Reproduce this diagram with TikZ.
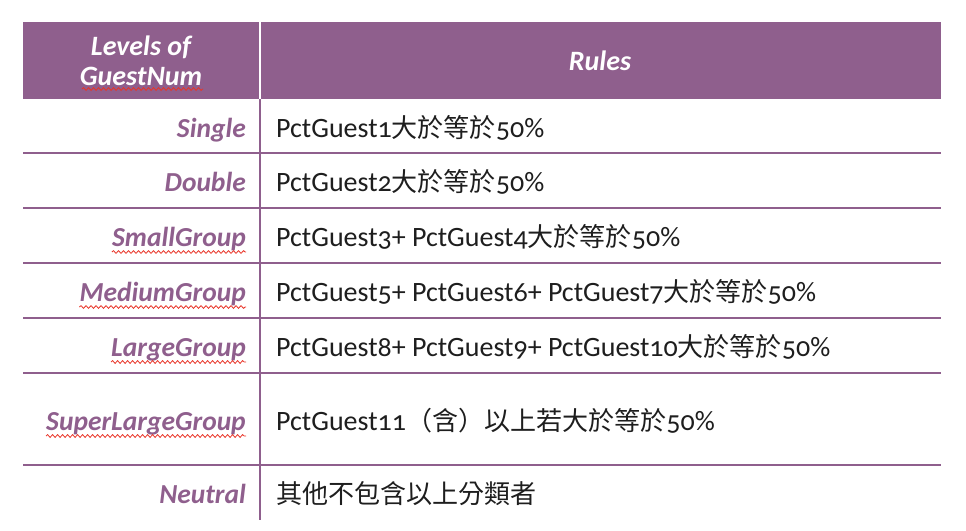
\documentclass[tikz,border=0pt]{standalone}
\usepackage{fontspec}
\setmainfont{Carlito}[Numbers=OldStyle]
\newfontfamily\cjk{Noto Sans CJK TC}[Scale=0.93]
\usetikzlibrary{decorations.pathmorphing}
\definecolor{tabpurple}{RGB}{143,95,141}
\definecolor{rulegray}{RGB}{30,30,30}
\definecolor{spellred}{RGB}{232,52,40}
\tikzset{
  level/.style={anchor=base east, inner sep=0pt, text=tabpurple,
    font=\fontsize{27.5}{30}\selectfont\bfseries\itshape},
  rule/.style={anchor=base west, inner sep=0pt, text=rulegray,
    font=\fontsize{28}{30}\selectfont},
  head/.style={inner sep=0pt, text=white, align=center,
    font=\fontsize{28}{30}\selectfont\bfseries\itshape},
  wavy/.style={draw=spellred, line width=0.8pt,
    decorate, decoration={snake, amplitude=1.4pt, segment length=5pt}}
}
\begin{document}
\begin{tikzpicture}[x=1pt,y=-1pt]
  \useasboundingbox (0,0) rectangle (966,530);

  % header
  \fill[tabpurple] (23,22) rectangle (941,99);
  \draw[white, line width=2pt] (260,22) -- (260,99);
  \node[head] (hlevel) at (141,61) {Levels of\\GuestNum};
  \node[head] (hrules) at (600,61) {Rules};

  % grid
  \draw[tabpurple, line width=2pt] (260,99) -- (260,520);
  \foreach \y in {153,208,263,318,373,465}
    \draw[tabpurple, line width=2pt] (23,\y) -- (941,\y);

  % levels
  \node[level] (single) at (246,137) {Single};
  \node[level] (double) at (246,191) {Double};
  \node[level] (small) at (246,246) {SmallGroup};
  \node[level] (medium) at (246,301) {MediumGroup};
  \node[level] (large) at (246,356) {LargeGroup};
  \node[level] (super) at (246,430) {SuperLargeGroup};
  \node[level] (neutral) at (246,503) {Neutral};

  % rules
  \node[rule] (r1) at (276,137) {PctGuest1{\cjk 大於等於}50\%};
  \node[rule] (r2) at (276,191) {PctGuest2{\cjk 大於等於}50\%};
  \node[rule] (r3) at (276,246) {PctGuest3+ PctGuest4{\cjk 大於等於}50\%};
  \node[rule] (r4) at (276,301) {PctGuest5+ PctGuest6+ PctGuest7{\cjk 大於等於}50\%};
  \node[rule] (r5) at (276,356) {PctGuest8+ PctGuest9+ PctGuest10{\cjk 大於等於}50\%};
  \node[rule] (r6) at (276,430) {PctGuest11{\cjk （含）以上若大於等於}50\%};
  \node[rule] (r7) at (276,503) {{\cjk 其他不包含以上分類者}};

  % spelling marks
  \draw[wavy] (82,89) -- (203,89);
  \foreach \n in {small,medium,large,super}
    \draw[wavy] ([yshift=-6pt]\n.base west) -- ([yshift=-6pt]\n.base east);
\end{tikzpicture}
\end{document}
